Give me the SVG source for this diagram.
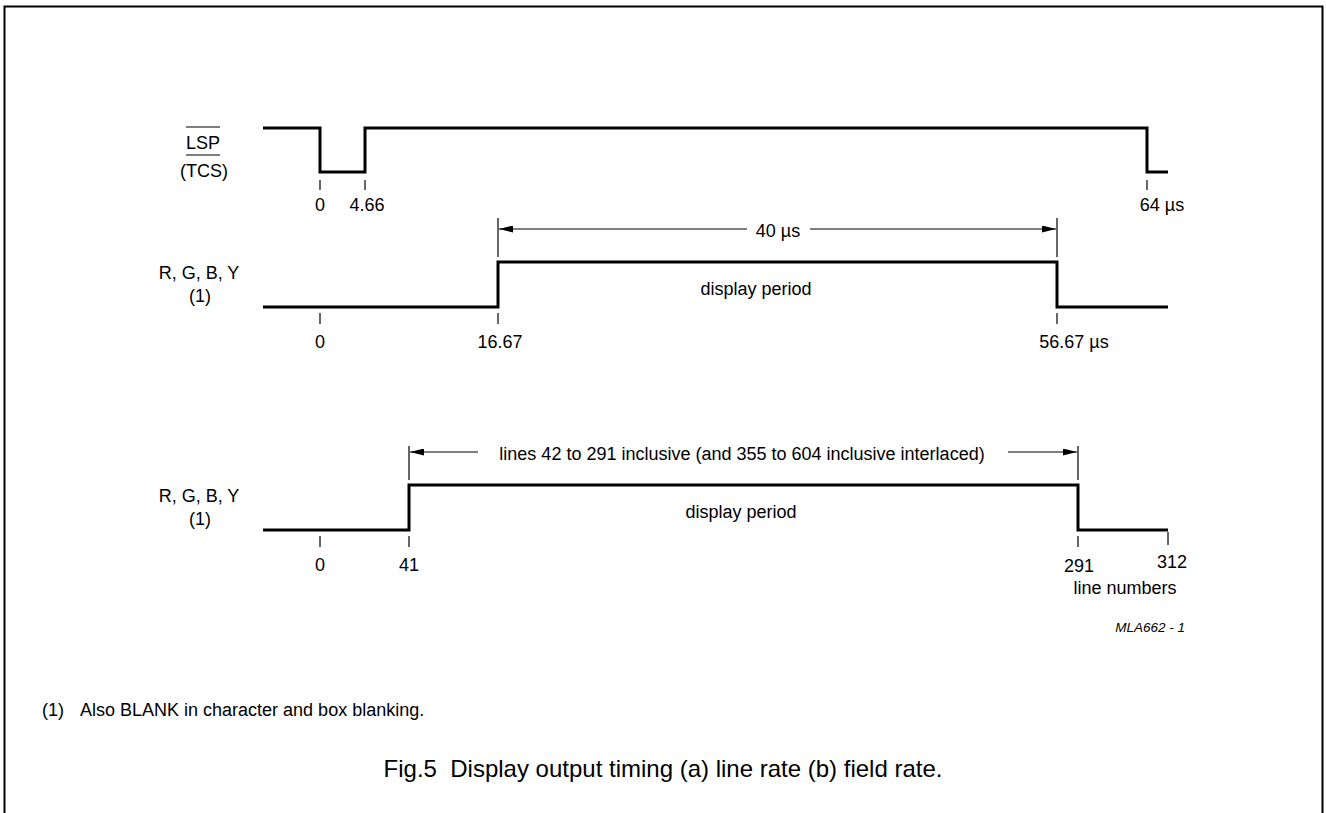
<svg xmlns="http://www.w3.org/2000/svg" width="1326" height="813" viewBox="0 0 1326 813">
<defs>
<marker id="ah" viewBox="0 0 14 7" refX="14" refY="3.5" markerWidth="14" markerHeight="7" markerUnits="userSpaceOnUse" orient="auto-start-reverse"><path d="M0,0 L14,3.5 L0,7 Z" fill="#000"/></marker>
</defs>
<style>
text{font-family:"Liberation Sans",Arial,sans-serif;fill:#000}
.lbl{font-size:18px;text-anchor:middle}
.wave{fill:none;stroke:#000;stroke-width:3;stroke-linejoin:miter}
.tick{stroke:#000;stroke-width:1.2}
.dim{stroke:#000;stroke-width:1.2;fill:none}
.ovl{stroke:#000;stroke-width:1.2}
</style>
<rect width="1326" height="813" fill="#fff"/>
<path d="M4.5,830 V6.5 H1322.5 V830" fill="none" stroke="#000" stroke-width="2"/>

<g id="signal-lsp">
<text class="lbl" x="203" y="149">LSP</text>
<line class="ovl" x1="186" y1="127" x2="220" y2="127"/>
<text class="lbl" x="204" y="177">(TCS)</text>
<line class="ovl" x1="186" y1="155" x2="220" y2="155"/>
<path class="wave" d="M263,128 H320 V172 H365 V128 H1147 V172 H1168"/>
<line class="tick" x1="320" y1="180" x2="320" y2="190"/>
<line class="tick" x1="365" y1="180" x2="365" y2="190"/>
<line class="tick" x1="1147" y1="180" x2="1147" y2="190"/>
<text class="lbl" x="320" y="211">0</text>
<text class="lbl" x="367" y="211">4.66</text>
<text class="lbl" x="1162" y="211">64 µs</text>
</g>

<g id="signal-rgb-line">
<text class="lbl" x="199" y="279">R, G, B, Y</text>
<text class="lbl" x="200" y="302">(1)</text>
<path class="wave" d="M263,307 H498 V262 H1057 V307 H1168"/>
<line class="tick" x1="320" y1="313" x2="320" y2="324"/>
<line class="tick" x1="498" y1="313" x2="498" y2="324"/>
<line class="tick" x1="1057" y1="313" x2="1057" y2="324"/>
<text class="lbl" x="320" y="348">0</text>
<text class="lbl" x="500" y="348">16.67</text>
<text class="lbl" x="1074" y="348">56.67 µs</text>
<text class="lbl" x="756" y="295">display period</text>
</g>

<g id="signal-rgb-field">
<text class="lbl" x="199" y="502">R, G, B, Y</text>
<text class="lbl" x="200" y="525">(1)</text>
<path class="wave" d="M263,530 H409 V485 H1078 V530 H1168"/>
<line class="tick" x1="320" y1="536" x2="320" y2="547"/>
<line class="tick" x1="409" y1="536" x2="409" y2="547"/>
<line class="tick" x1="1078" y1="536" x2="1078" y2="547"/>
<line class="tick" x1="1168" y1="532" x2="1168" y2="545"/>
<text class="lbl" x="320" y="571">0</text>
<text class="lbl" x="409" y="571">41</text>
<text class="lbl" x="1079" y="572">291</text>
<text class="lbl" x="1172" y="568">312</text>
<text class="lbl" x="1125" y="594">line numbers</text>
<text class="lbl" x="741" y="518">display period</text>
</g>

<g id="connectors">
<line class="dim" x1="498" y1="218" x2="498" y2="257"/>
<line class="dim" x1="1057" y1="218" x2="1057" y2="257"/>
<line class="dim" x1="747" y1="229" x2="499" y2="229" marker-end="url(#ah)"/>
<line class="dim" x1="810" y1="229" x2="1056" y2="229" marker-end="url(#ah)"/>
<line class="dim" x1="409" y1="446" x2="409" y2="480"/>
<line class="dim" x1="1078" y1="446" x2="1078" y2="480"/>
<line class="dim" x1="478" y1="452" x2="410" y2="452" marker-end="url(#ah)"/>
<line class="dim" x1="1008" y1="452" x2="1077" y2="452" marker-end="url(#ah)"/>
</g>

<g id="dim-labels">
<text class="lbl" x="778" y="237">40 µs</text>
<text class="lbl" x="742" y="460">lines 42 to 291 inclusive (and 355 to 604 inclusive interlaced)</text>
</g>

<text x="1185" y="632" style="font-size:13.5px;font-style:italic;text-anchor:end">MLA662 - 1</text>
<text x="42" y="716" style="font-size:18px">(1)</text>
<text x="80" y="716" style="font-size:18px">Also BLANK in character and box blanking.</text>
<text x="663" y="777" xml:space="preserve" style="font-size:24px;text-anchor:middle;white-space:pre">Fig.5  Display output timing (a) line rate (b) field rate.</text>
</svg>
